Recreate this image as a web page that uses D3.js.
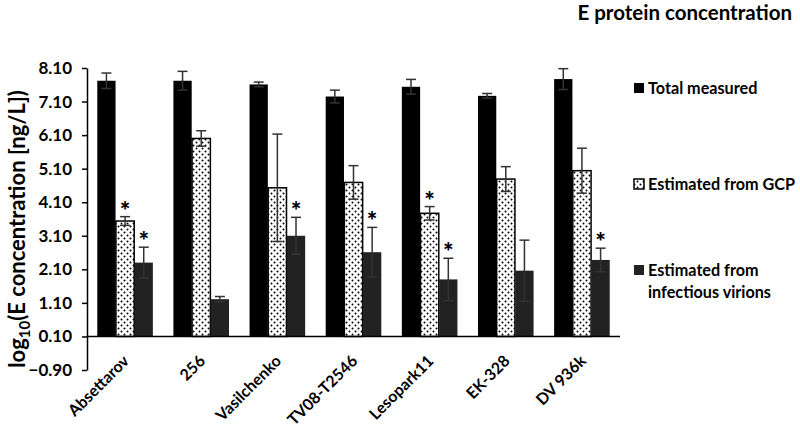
<!DOCTYPE html>
<html><head><meta charset="utf-8">
<script src="https://cdn.jsdelivr.net/npm/d3@7"></script>
<style>body{margin:0;background:#fff}svg{display:block}text{font-family:Lato,"Open Sans",sans-serif}</style>
</head><body>
<svg id="c" width="800" height="427"></svg>
<script>
const categories = ["Absettarov","256","Vasilchenko","TV08-T2546","Lesopark11","EK-328","DV 936k"];
const seriesNames = ["Total measured","Estimated from GCP","Estimated from infectious virions"];
const totalVals = [7.72,7.72,7.61,7.25,7.54,7.27,7.77];
const totalErr  = [0.23,0.28,0.07,0.19,0.22,0.07,0.31];
const gcpVals   = [3.54,6.00,4.53,4.69,3.77,4.79,5.04];
const gcpErr    = [0.13,0.23,1.60,0.50,0.20,0.37,0.67];
const virVals   = [2.30,1.21,3.10,2.61,1.80,2.06,2.38];
const virErr    = [0.46,0.08,0.55,0.74,0.63,0.91,0.35];
const gcpStar   = [1,0,0,0,1,0,0];
const virStar   = [1,0,1,1,1,0,1];
const yTicks = [-0.90,0.10,1.10,2.10,3.10,4.10,5.10,6.10,7.10,8.10];

const svg = d3.select("#c");
const m = {l:87, r:620, t:68, b:370};
const y = d3.scaleLinear().domain([-0.90,8.10]).range([m.b,m.t]);
const x0 = d3.scaleBand().domain(categories).range([m.l,m.r]).paddingInner(0.26).paddingOuter(0.13);
const x1 = d3.scaleBand().domain([0,1,2]).range([0,x0.bandwidth()]).padding(0.02);

const defs = svg.append("defs");
const pat = defs.append("pattern").attr("id","dots").attr("patternUnits","userSpaceOnUse").attr("width",6).attr("height",6);
pat.append("rect").attr("width",6).attr("height",6).attr("fill","#fff");
pat.append("circle").attr("cx",1.5).attr("cy",1.5).attr("r",1).attr("fill","#000");
pat.append("circle").attr("cx",4.5).attr("cy",4.5).attr("r",1).attr("fill","#000");

const series = [
  {vals:totalVals, err:totalErr, fill:"#000", stroke:"none", stars:null},
  {vals:gcpVals, err:gcpErr, fill:"url(#dots)", stroke:"#000", stars:gcpStar},
  {vals:virVals, err:virErr, fill:"#222", stroke:"none", stars:virStar}
];
const base = y(0.10);
series.forEach((s,si)=>{
  const g = svg.append("g");
  categories.forEach((c,i)=>{
    const bx = x0(c)+x1(si), bw = x1.bandwidth();
    const v = s.vals[i];
    g.append("rect").attr("x",bx).attr("y",y(v)).attr("width",bw).attr("height",base-y(v))
      .attr("fill",s.fill).attr("stroke",s.stroke).attr("stroke-width",s.stroke==="none"?0:1.5);
    const cx = bx+bw/2, hi=y(v+s.err[i]), lo=y(v-s.err[i]);
    const ec = "#333";
    g.append("line").attr("x1",cx).attr("x2",cx).attr("y1",hi).attr("y2",lo).attr("stroke",ec).attr("stroke-width",1.5);
    [hi,lo].forEach(yy=>g.append("line").attr("x1",cx-5).attr("x2",cx+5).attr("y1",yy).attr("y2",yy).attr("stroke",ec).attr("stroke-width",1.5));
    if(s.stars && s.stars[i]){
      g.append("text").attr("x",cx).attr("y",hi+3).attr("text-anchor","middle").attr("font-size",25).attr("font-weight",900).text("*");
    }
  });
});

// y axis
const ya = svg.append("g").attr("transform",`translate(${m.l},0)`)
  .call(d3.axisLeft(y).tickValues(yTicks).tickFormat(d3.format(".2f")).tickSize(5).tickSizeOuter(0));
ya.select(".domain").attr("stroke","#000").attr("stroke-width",1.5);
ya.selectAll(".tick line").attr("stroke","#000").attr("stroke-width",1.5);
ya.selectAll(".tick text").attr("font-size",17).attr("font-weight",700).attr("fill","#000").attr("x",-15)
  .style("font-family","Lato, sans-serif");

// x axis line at 0.10
svg.append("line").attr("x1",m.l).attr("x2",m.r).attr("y1",base).attr("y2",base).attr("stroke","#000").attr("stroke-width",1.5);

// x labels
categories.forEach(c=>{
  const cx = x0(c)+x0.bandwidth()/2+5;
  svg.append("text").attr("transform",`translate(${cx},${362}) rotate(-45)`).attr("text-anchor","end")
    .attr("font-size",16).attr("font-weight",700).attr("fill","#000").text(c);
});

// y title
const yt = svg.append("text").attr("transform",`translate(25,${229}) rotate(-90)`).attr("text-anchor","middle")
  .attr("font-size",22).attr("font-weight",700).attr("fill","#000");
yt.append("tspan").text("log");
yt.append("tspan").attr("font-size",15).attr("dy",5).text("10");
yt.append("tspan").attr("dy",-5).text("(E concentration [ng/L])");

// legend
svg.append("text").attr("x",792).attr("y",20).attr("text-anchor","end").attr("font-size",20.5).attr("font-weight",700).text("E protein concentration");
const leg = [
  {fill:"#000", stroke:"none", lines:["Total measured"], y:88},
  {fill:"url(#dots)", stroke:"#000", lines:["Estimated from GCP"], y:184},
  {fill:"#222", stroke:"none", lines:["Estimated from","infectious virions"], y:270}
];
leg.forEach((d,i)=>{
  svg.append("rect").attr("x",634).attr("y",d.y-5).attr("width",10).attr("height",10).attr("fill",d.fill)
    .attr("stroke",d.stroke).attr("stroke-width",d.stroke==="none"?0:1.5);
  d.lines.forEach((t,j)=>{
    svg.append("text").attr("x",648).attr("y",d.y+6+j*22).attr("font-size",16.2).attr("font-weight",700).text(t);
  });
});
</script>
</body></html>
